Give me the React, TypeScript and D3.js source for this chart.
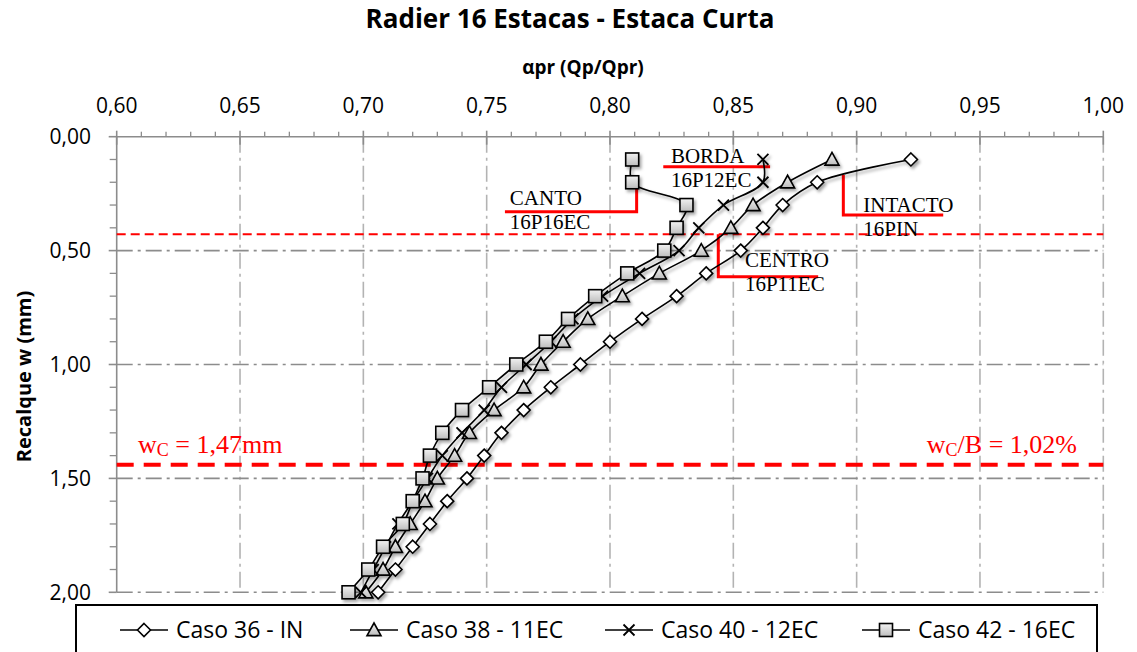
import React from 'react';
import * as d3 from 'd3';

// settlement levels (mm) shared by all series
const recalque = [0.1, 0.2, 0.3, 0.4, 0.5, 0.6, 0.7, 0.8, 0.9, 1.0, 1.1, 1.2, 1.3, 1.4, 1.5, 1.6, 1.7, 1.8, 1.9, 2.0];

// alpha_pr, one list per case
const caso36 = [0.922, 0.884, 0.870, 0.862, 0.853, 0.839, 0.827, 0.813, 0.800, 0.788, 0.776, 0.765, 0.756, 0.749, 0.742, 0.734, 0.727, 0.720, 0.713, 0.706];
const caso38 = [0.890, 0.872, 0.858, 0.849, 0.837, 0.820, 0.805, 0.791, 0.781, 0.772, 0.765, 0.753, 0.743, 0.737, 0.730, 0.725, 0.719, 0.713, 0.708, 0.701];
const caso40 = [0.862, 0.862, 0.846, 0.836, 0.828, 0.812, 0.797, 0.785, 0.776, 0.766, 0.756, 0.749, 0.740, 0.732, 0.726, 0.720, 0.714, 0.709, 0.704, 0.699];
const caso42 = [0.809, 0.809, 0.831, 0.827, 0.822, 0.807, 0.794, 0.783, 0.774, 0.762, 0.751, 0.740, 0.732, 0.727, 0.724, 0.720, 0.716, 0.708, 0.702, 0.694];

const seriesNames = ['Caso 36 - IN', 'Caso 38 - 11EC', 'Caso 40 - 12EC', 'Caso 42 - 16EC'];
const seriesMarkers = ['diamond', 'triangle', 'cross', 'square'];

const xTicks = [0.6, 0.65, 0.7, 0.75, 0.8, 0.85, 0.9, 0.95, 1.0];
const yTicks = [0, 0.5, 1.0, 1.5, 2.0];

// reference lines (mm)
const wRefThin = 0.428;
const wRefThick = 1.44;

// callouts: label, sub label, text anchor (x, y) and red leader path in data units
const callouts = [
  { label: 'CANTO', sub: '16P16EC', tx: 0.7594, ty: 0.30, path: [[0.7574, 0.329], [0.8108, 0.329], [0.8108, 0.19]] },
  { label: 'BORDA', sub: '16P12EC', tx: 0.8247, ty: 0.115, path: [[0.8216, 0.132], [0.8649, 0.132]] },
  { label: 'INTACTO', sub: '16PIN', tx: 0.9027, ty: 0.329, path: [[0.8946, 0.168], [0.8946, 0.344], [0.9351, 0.344]] },
  { label: 'CENTRO', sub: '16P11EC', tx: 0.8547, ty: 0.571, path: [[0.8439, 0.428], [0.8439, 0.615], [0.8844, 0.615]] },
];

const W = 1137;
const H = 652;
const sans = "'Open Sans', 'Noto Sans', sans-serif";
const serif = "'Liberation Serif', 'DejaVu Serif', serif";

const fmt = (v: number) => v.toFixed(2).replace('.', ',');

function Marker({ type, x, y }: { type: string; x: number; y: number }) {
  if (type === 'diamond') {
    const r = 6.5;
    return <path d={`M${x},${y - r}L${x + r},${y}L${x},${y + r}L${x - r},${y}Z`} fill="#fff" stroke="#000" strokeWidth={1.6} />;
  }
  if (type === 'triangle') {
    const r = 7;
    return <path d={`M${x},${y - r}L${x + r},${y + r * 0.8}L${x - r},${y + r * 0.8}Z`} fill="url(#gfill)" stroke="#000" strokeWidth={1.6} />;
  }
  if (type === 'cross') {
    const r = 5.5;
    return <path d={`M${x - r},${y - r}L${x + r},${y + r}M${x - r},${y + r}L${x + r},${y - r}`} stroke="#000" strokeWidth={1.8} />;
  }
  const r = 6.5;
  return <rect x={x - r} y={y - r} width={2 * r} height={2 * r} fill="url(#gfill)" stroke="#000" strokeWidth={1.6} />;
}

export default function App() {
  const x = d3.scaleLinear().domain([0.6, 1.0]).range([116.7, 1103.3]);
  const y = d3.scaleLinear().domain([0, 2]).range([136.7, 592.3]);

  const series = [caso36, caso38, caso40, caso42];
  const line = d3
    .line<[number, number]>()
    .x(d => x(d[0]))
    .y(d => y(d[1]))
    .curve(d3.curveCatmullRom.alpha(0.5));

  const minorX = d3.range(61, 100).map(v => v / 100).filter(v => Math.round(v * 100) % 5 !== 0);
  const minorY = d3.range(1, 20).map(v => v / 10).filter(v => Math.round(v * 10) % 5 !== 0);

  const [x0, x1] = x.range();
  const [y0, y1] = y.range();

  const legendX = [120, 350, 605, 862];
  const legendY = 630;

  return (
    <svg width={W} height={H} style={{ position: 'absolute', left: 0, top: 0, background: '#fff' }}>
      <defs>
        <linearGradient id="gfill" x1="0" y1="0" x2="0" y2="1">
          <stop offset="0" stopColor="#f2f2f2" />
          <stop offset="1" stopColor="#bdbdbd" />
        </linearGradient>
        <filter id="shadow" x="-20%" y="-20%" width="140%" height="140%">
          <feDropShadow dx="2" dy="2.5" stdDeviation="1.6" floodColor="#000" floodOpacity="0.35" />
        </filter>
      </defs>

      {/* title */}
      <text x={570} y={28} textAnchor="middle" fontFamily={sans} fontWeight="bold" fontSize={26}>
        Radier 16 Estacas - Estaca Curta
      </text>
      <text x={583} y={74} textAnchor="middle" fontFamily={sans} fontWeight="bold" fontSize={19}>
        αpr (Qp/Qpr)
      </text>
      <text
        transform={`translate(31,${(y0 + y1) / 2 + 12}) rotate(-90)`}
        textAnchor="middle"
        fontFamily={sans}
        fontWeight="bold"
        fontSize={20}
      >
        Recalque w (mm)
      </text>

      {/* gridlines */}
      {xTicks.slice(1).map(t => (
        <line key={`gx${t}`} x1={x(t)} x2={x(t)} y1={y0} y2={y1} stroke="#b3b3b3" strokeWidth={1.6} strokeDasharray="16,5,3,5" />
      ))}
      {yTicks.slice(1).map(t => (
        <line key={`gy${t}`} x1={x0} x2={x1} y1={y(t)} y2={y(t)} stroke="#8c8c8c" strokeWidth={1.6} strokeDasharray="16,5,3,5" />
      ))}

      {/* axes */}
      <line x1={x0} x2={x1} y1={y0} y2={y0} stroke="#8c8c8c" strokeWidth={1.6} />
      <line x1={x0} x2={x0} y1={y0} y2={y1} stroke="#8c8c8c" strokeWidth={1.6} />
      {minorX.map(t => (
        <line key={`mx${t}`} x1={x(t)} x2={x(t)} y1={y0 - 5} y2={y0} stroke="#8c8c8c" strokeWidth={1.3} />
      ))}
      {xTicks.map(t => (
        <line key={`tx${t}`} x1={x(t)} x2={x(t)} y1={y0 - 6} y2={y0 + 8} stroke="#8c8c8c" strokeWidth={1.6} />
      ))}
      {minorY.map(t => (
        <line key={`my${t}`} x1={x0 - 7} x2={x0} y1={y(t)} y2={y(t)} stroke="#8c8c8c" strokeWidth={1.3} />
      ))}
      {yTicks.map(t => (
        <line key={`ty${t}`} x1={x0 - 8} x2={x0} y1={y(t)} y2={y(t)} stroke="#8c8c8c" strokeWidth={1.6} />
      ))}
      {xTicks.map(t => (
        <text key={`lx${t}`} x={x(t)} y={113} textAnchor="middle" fontFamily={sans} fontSize={21}>
          {fmt(t)}
        </text>
      ))}
      {yTicks.map(t => (
        <text key={`ly${t}`} x={91} y={y(t) + 7.5} textAnchor="end" fontFamily={sans} fontSize={21}>
          {fmt(t)}
        </text>
      ))}

      {/* red reference lines */}
      <line x1={x0} x2={x1} y1={y(wRefThin)} y2={y(wRefThin)} stroke="#ff0000" strokeWidth={2} strokeDasharray="9,5" />
      <line x1={x0} x2={x1} y1={y(wRefThick)} y2={y(wRefThick)} stroke="#ff0000" strokeWidth={4} strokeDasharray="17,10" />
      <text x={138} y={453} fontFamily={serif} fontSize={26} fill="#ff0000">
        w<tspan fontSize={18} dy={3}>C</tspan>
        <tspan dy={-3}> = 1,47mm</tspan>
      </text>
      <text x={1077} y={453} textAnchor="end" fontFamily={serif} fontSize={26} fill="#ff0000">
        w<tspan fontSize={18} dy={3}>C</tspan>
        <tspan dy={-3}>/B = 1,02%</tspan>
      </text>

      {/* callouts */}
      {callouts.map(c => (
        <g key={c.label}>
          <path
            d={d3.line()(c.path.map(p => [x(p[0]), y(p[1])]) as [number, number][]) || ''}
            fill="none"
            stroke="#ff0000"
            strokeWidth={3}
          />
          <text x={x(c.tx)} y={y(c.ty)} fontFamily={serif} fontSize={21} fill="#000">
            {c.label}
          </text>
          <text x={x(c.tx)} y={y(c.ty) + 24} fontFamily={serif} fontSize={21} fill="#000">
            {c.sub}
          </text>
        </g>
      ))}

      {/* series */}
      <g filter="url(#shadow)">
        {series.map((s, i) => {
          const pts = s.map((v, j) => [v, recalque[j]] as [number, number]);
          return (
            <g key={seriesNames[i]}>
              <path d={line(pts) || ''} fill="none" stroke="#000" strokeWidth={1.6} />
              {pts.map((p, j) => (
                <Marker key={j} type={seriesMarkers[i]} x={x(p[0])} y={y(p[1])} />
              ))}
            </g>
          );
        })}
      </g>

      {/* legend */}
      <rect x={76} y={605} width={1021} height={60} fill="#fff" stroke="#000" strokeWidth={2} />
      {seriesNames.map((n, i) => (
        <g key={n}>
          <line x1={legendX[i]} x2={legendX[i] + 48} y1={legendY} y2={legendY} stroke="#000" strokeWidth={1.6} />
          <Marker type={seriesMarkers[i]} x={legendX[i] + 24} y={legendY} />
          <text x={legendX[i] + 56} y={legendY + 8} fontFamily={sans} fontSize={23}>
            {n}
          </text>
        </g>
      ))}
    </svg>
  );
}
